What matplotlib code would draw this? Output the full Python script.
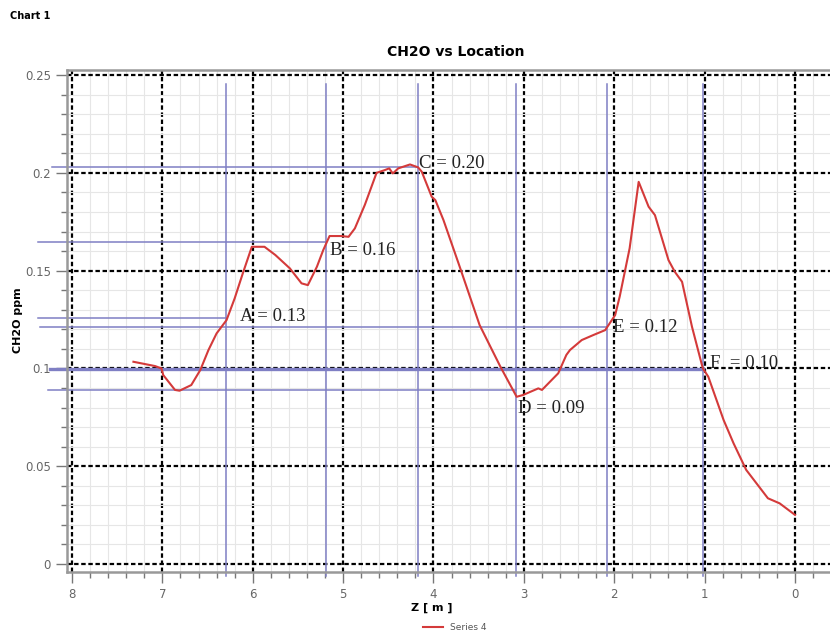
import numpy as np
import matplotlib
matplotlib.use("Agg")
from matplotlib import pyplot as plt
from matplotlib.ticker import MultipleLocator, FuncFormatter

# CH2O concentration along the location axis
z = [7.32, 7.08, 7.01, 6.99, 6.86, 6.81, 6.68, 6.58, 6.49, 6.40, 6.29, 6.20,
     6.11, 6.01, 5.87, 5.75, 5.59, 5.46, 5.39, 5.29, 5.22, 5.15, 5.02, 4.94,
     4.87, 4.76, 4.63, 4.54, 4.49, 4.45, 4.39, 4.26, 4.17, 4.13, 4.02, 3.98,
     3.89, 3.71, 3.49, 3.26, 3.08, 3.01, 2.84, 2.80, 2.62, 2.53, 2.49, 2.36,
     2.23, 2.10, 1.99, 1.94, 1.83, 1.73, 1.62, 1.55, 1.40, 1.33, 1.25, 1.14,
     1.02, 0.96, 0.79, 0.68, 0.54, 0.30, 0.17, 0.00]
ch2o = [0.1034, 0.1012, 0.1000, 0.0966, 0.0890, 0.0886, 0.0915, 0.0992,
        0.1094, 0.1179, 0.1247, 0.1358, 0.1486, 0.1622, 0.1622, 0.1580,
        0.1512, 0.1435, 0.1426, 0.1520, 0.1605, 0.1677, 0.1677, 0.1673,
        0.1716, 0.1836, 0.2000, 0.2014, 0.2023, 0.1997, 0.2023, 0.2043,
        0.2028, 0.2006, 0.1878, 0.1861, 0.1759, 0.1520, 0.1222, 0.1009,
        0.0855, 0.0864, 0.0898, 0.0890, 0.0975, 0.1069, 0.1094, 0.1145,
        0.1171, 0.1196, 0.1273, 0.1367, 0.1614, 0.1954, 0.1827, 0.1784,
        0.1554, 0.1494, 0.1443, 0.1213, 0.1000, 0.0958, 0.0736, 0.0617,
        0.0481, 0.0336, 0.0310, 0.0251]

# marked points A..F
pt_names = ["A", "B", "C", "D", "E", "F"]
pt_labels = ["A = 0.13", "B = 0.16", "C = 0.20", "D = 0.09", "E = 0.12", "F  = 0.10"]
pt_z = [6.296, 5.189, 4.168, 3.087, 2.077, 1.015]
pt_level = [0.1256, 0.1646, 0.2030, 0.0890, 0.1210, 0.0995]
pt_start = [8.376, 8.376, 8.221, 8.266, 8.354, 8.243]
txt_z = [6.14, 5.146, 4.16, 3.07, 2.015, 0.94]
txt_y = [0.1265, 0.1605, 0.2050, 0.0797, 0.1210, 0.1027]

fig = plt.figure(figsize=(8.3, 6.34), dpi=100)
ax = fig.add_axes([67 / 830, 1 - 572 / 634, 1 - 67 / 830, (572 - 70) / 634])

ax.set_xlim(8.055, -0.387)
ax.set_ylim(-0.0041, 0.2526)

ax.xaxis.set_major_locator(MultipleLocator(1))
ax.xaxis.set_minor_locator(MultipleLocator(0.2))
ax.yaxis.set_major_locator(MultipleLocator(0.05))
ax.yaxis.set_minor_locator(MultipleLocator(0.01))
ax.yaxis.set_major_formatter(FuncFormatter(lambda v, p: "0" if abs(v) < 1e-9 else ("%.2f" % v).rstrip("0")))
ax.xaxis.set_major_formatter(FuncFormatter(lambda v, p: "%d" % round(v) if v > -0.01 else ""))

ax.grid(which="minor", color="#e6e6e6", lw=0.8, ls="-")
ax.grid(which="major", color="black", lw=1.6, ls=(0, (2.0, 1.2)))
ax.set_axisbelow(True)

ax.tick_params(which="both", colors="#777777", labelcolor="#666666", labelsize=8.5, direction="out")
ax.tick_params(which="major", length=8, width=1)
ax.tick_params(which="minor", length=4, width=1)
for s in ["left", "top", "bottom"]:
    ax.spines[s].set_color("#999999")
    ax.spines[s].set_linewidth(1.8)
ax.spines["right"].set_visible(False)

blue = "#7f7fc4"
for i in range(len(pt_names)):
    ax.plot([pt_z[i], pt_z[i]], [-0.006, 0.2455], color=blue, lw=1.1, clip_on=False, zorder=2)
    lw = 2.4 if pt_names[i] == "F" else 1.1
    ax.plot([pt_start[i], pt_z[i]], [pt_level[i], pt_level[i]], color=blue, lw=lw, clip_on=False, zorder=2)
    ax.text(txt_z[i], txt_y[i], pt_labels[i], family="Liberation Serif", fontsize=13.5,
            color="#222222", va="center", ha="left", zorder=4)

ax.plot(z, ch2o, color="#d43a3a", lw=1.5, label="Series 4", zorder=3)

fig.text(10 / 830, 1 - 16 / 634, "Chart 1", fontsize=7, fontweight="bold", va="center", ha="left")
fig.text(456 / 830, 1 - 52 / 634, "CH2O vs Location", fontsize=10, fontweight="bold", va="center", ha="center")
fig.text(18 / 830, 1 - 320 / 634, "CH2O ppm", fontsize=8, fontweight="bold", rotation=90, va="center", ha="center")
fig.text(432 / 830, 1 - 608 / 634, "Z [ m ]", fontsize=8, fontweight="bold", va="center", ha="center")

leg = fig.legend(loc="center", bbox_to_anchor=(455 / 830, 1 - 628 / 634), frameon=False,
                 fontsize=6.5, handlelength=2.2, handletextpad=0.8)
for t in leg.get_texts():
    t.set_color("#555555")

fig.savefig("out.png", dpi=100)
